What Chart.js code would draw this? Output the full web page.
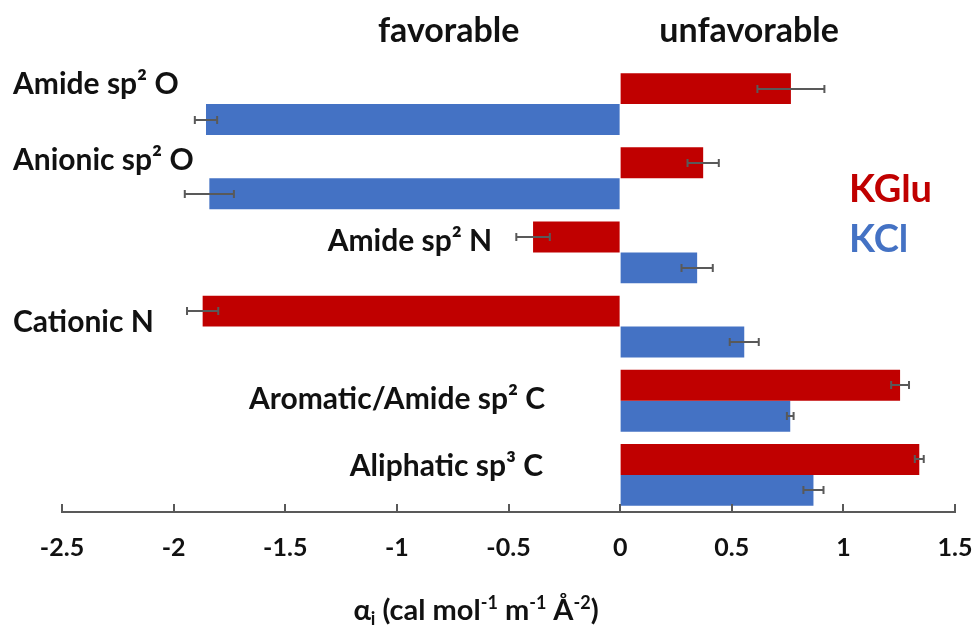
<!DOCTYPE html>
<html>
<head>
<meta charset="utf-8">
<script src="https://cdn.jsdelivr.net/npm/chart.js@4/dist/chart.umd.min.js"></script>
<style>
  html, body { margin: 0; padding: 0; background: #fff; }
  #wrap { width: 976px; height: 626px; position: relative; }
</style>
</head>
<body>
<div id="wrap"><canvas id="c"></canvas></div>
<script>
const categories = ["Amide sp² O", "Anionic sp² O", "Amide sp² N", "Cationic N", "Aromatic/Amide sp² C", "Aliphatic sp³ C"];
const seriesNames = ["KGlu", "KCl"];
const kgluValues = [0.765, 0.372, -0.39, -1.87, 1.254, 1.34];
const kgluErrors = [0.15, 0.07, 0.075, 0.07, 0.04, 0.02];
const kclValues = [-1.855, -1.84, 0.345, 0.556, 0.762, 0.866];
const kclErrors = [0.05, 0.11, 0.07, 0.065, 0.015, 0.045];
const xTicks = [-2.5, -2, -1.5, -1, -0.5, 0, 0.5, 1, 1.5];
const headerTexts = ["favorable", "unfavorable"];

const RED = '#C00000', BLUE = '#4472C4', GREY = '#595959';
const FONT = 'Lato, "Open Sans", sans-serif';

const errorsByDataset = [kgluErrors, kclErrors];

const errorBarPlugin = {
  id: 'errorBars',
  afterDatasetsDraw(chart) {
    const ctx = chart.ctx;
    const xs = chart.scales.x;
    ctx.save();
    ctx.strokeStyle = GREY;
    ctx.lineWidth = 2;
    chart.data.datasets.forEach((ds, di) => {
      const meta = chart.getDatasetMeta(di);
      meta.data.forEach((bar, i) => {
        const v = ds.data[i], e = errorsByDataset[di][i];
        const x1 = xs.getPixelForValue(v - e), x2 = xs.getPixelForValue(v + e);
        const y = Math.round(bar.y);
        ctx.beginPath();
        ctx.moveTo(x1, y); ctx.lineTo(x2, y);
        ctx.moveTo(x1, y - 4); ctx.lineTo(x1, y + 4);
        ctx.moveTo(x2, y - 4); ctx.lineTo(x2, y + 4);
        ctx.stroke();
      });
    });
    ctx.restore();
  }
};

// label placement: 'left' => left edge at canvas margin; otherwise right edge at given x value
const labelPlacement = [
  { mode: 'left', dy: -20 },
  { mode: 'left', dy: -18 },
  { mode: 'right', xv: -0.573, dy: -11 },
  { mode: 'left', dy: -4 },
  { mode: 'right', xv: -0.336, dy: -1 },
  { mode: 'right', xv: -0.345, dy: -9 }
];

function drawRich(ctx, parts, x, y, align, baseSize) {
  const widths = parts.map(p => {
    ctx.font = 'bold ' + (p[1] === 'n' ? baseSize : Math.round(baseSize * 0.62)) + 'px ' + FONT;
    return ctx.measureText(p[0]).width;
  });
  const total = widths.reduce((a, b) => a + b, 0);
  let cx = align === 'center' ? x - total / 2 : (align === 'right' ? x - total : x);
  ctx.textAlign = 'left';
  ctx.textBaseline = 'alphabetic';
  parts.forEach((p, i) => {
    const sz = p[1] === 'n' ? baseSize : Math.round(baseSize * 0.62);
    ctx.font = 'bold ' + sz + 'px ' + FONT;
    const off = p[1] === 'sup' ? -baseSize * 0.38 : (p[1] === 'sub' ? baseSize * 0.18 : 0);
    ctx.fillText(p[0], cx, y + off);
    cx += widths[i];
  });
}

const annotationPlugin = {
  id: 'annotations',
  afterDraw(chart) {
    const ctx = chart.ctx;
    const xs = chart.scales.x, ys = chart.scales.y;
    const area = chart.chartArea;
    ctx.save();
    // upward tick marks on the x axis
    ctx.strokeStyle = GREY;
    ctx.lineWidth = 2;
    xTicks.forEach(t => {
      const px = Math.round(xs.getPixelForValue(t));
      ctx.beginPath();
      ctx.moveTo(px, area.bottom);
      ctx.lineTo(px, area.bottom - 8);
      ctx.stroke();
    });
    // category labels
    ctx.fillStyle = '#111';
    categories.forEach((c, i) => {
      const pl = labelPlacement[i];
      const y = ys.getPixelForValue(i) + pl.dy;
      ctx.font = 'bold 30px ' + FONT;
      ctx.textBaseline = 'middle';
      if (pl.mode === 'left') {
        ctx.textAlign = 'left';
        ctx.fillText(c, 13, y);
      } else {
        ctx.textAlign = 'right';
        ctx.fillText(c, xs.getPixelForValue(pl.xv), y);
      }
    });
    // headers
    ctx.font = 'bold 34px ' + FONT;
    ctx.textAlign = 'center';
    ctx.textBaseline = 'middle';
    ctx.fillText(headerTexts[0], xs.getPixelForValue(-0.768), 31);
    ctx.fillText(headerTexts[1], xs.getPixelForValue(0.578), 31);
    // legend
    ctx.font = 'bold 38px ' + FONT;
    ctx.textAlign = 'left';
    ctx.fillStyle = RED;
    ctx.fillText(seriesNames[0], 849, 190);
    ctx.fillStyle = BLUE;
    ctx.fillText(seriesNames[1], 849, 240);
    // axis title
    ctx.fillStyle = '#111';
    drawRich(ctx, [['α', 'n'], ['i', 'sub'], [' (cal mol', 'n'], ['-1', 'sup'], [' m', 'n'], ['-1', 'sup'], [' Å', 'n'], ['-2', 'sup'], [')', 'n']],
      476, 620, 'center', 29);
    ctx.restore();
  }
};

new Chart(document.getElementById('c'), {
  type: 'bar',
  data: {
    labels: categories,
    datasets: [
      { label: seriesNames[0], data: kgluValues, backgroundColor: RED, categoryPercentage: 0.833, barPercentage: 1.0 },
      { label: seriesNames[1], data: kclValues, backgroundColor: BLUE, categoryPercentage: 0.833, barPercentage: 1.0 }
    ]
  },
  options: {
    indexAxis: 'y',
    responsive: true,
    maintainAspectRatio: false,
    devicePixelRatio: 1,
    animation: false,
    layout: { padding: { left: 62, right: 21, top: 67, bottom: 0 } },
    plugins: { legend: { display: false }, tooltip: { enabled: false } },
    scales: {
      x: {
        type: 'linear',
        min: -2.5, max: 1.5,
        afterBuildTicks: (scale) => { scale.ticks = xTicks.map(v => ({ value: v })); },
        afterFit: (scale) => { scale.paddingLeft = 0; scale.paddingRight = 0; scale.height = 114; },
        ticks: {
          padding: 21,
          color: '#111',
          maxRotation: 0,
          font: { family: FONT, size: 25, weight: 'bold' },
          callback: (v) => String(v)
        },
        grid: { display: true, drawOnChartArea: false, drawTicks: false },
        border: { display: true, color: GREY, width: 2 }
      },
      y: {
        display: false
      }
    }
  },
  plugins: [errorBarPlugin, annotationPlugin]
});
</script>
</body>
</html>
